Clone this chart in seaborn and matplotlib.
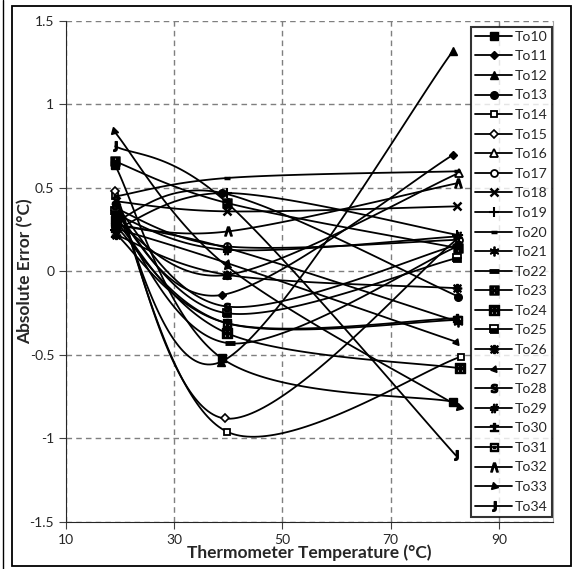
"""Absolute error of thermometers To10-To34 against thermometer temperature."""

import matplotlib
matplotlib.use("Agg")
import matplotlib.pyplot as plt
from matplotlib.lines import Line2D
from matplotlib.patches import Rectangle
import seaborn as sns
import pandas as pd
import numpy as np

sensors = [f"To{i}" for i in range(10, 35)]

# temperature of each sensor at the three test points (degC)
temp_low = [19.0, 19.0, 19.2, 19.0, 19.0, 19.0, 19.2, 19.0, 19.2, 19.0, 19.2, 19.0, 19.2,
            19.0, 19.2, 19.0, 19.2, 19.0, 19.0, 19.2, 19.0, 19.2, 19.0, 18.9, 19.1]
temp_mid = [38.8, 38.9, 38.7, 38.9, 39.8, 39.3, 39.8, 39.8, 39.8, 39.8, 39.8, 39.8, 40.3,
            39.8, 39.8, 39.8, 39.8, 39.8, 39.8, 39.8, 39.8, 39.8, 39.9, 39.8, 39.8]
temp_high = [81.6, 81.6, 81.5, 82.5, 83.0, 82.5, 82.6, 82.6, 82.2, 82.2, 82.3, 82.4, 82.3,
             82.4, 82.9, 82.2, 82.2, 82.0, 82.4, 82.4, 82.3, 82.5, 82.5, 82.6, 82.0]

# absolute error at the three test points (degC)
err_low = [0.64, 0.35, 0.40, 0.30, 0.45, 0.48, 0.30, 0.38, 0.42, 0.25, 0.45, 0.28, 0.33,
           0.66, 0.30, 0.36, 0.22, 0.26, 0.40, 0.34, 0.23, 0.27, 0.28, 0.84, 0.75]
err_mid = [-0.52, -0.14, -0.54, 0.47, -0.96, -0.88, -0.02, 0.15, 0.36, 0.47, 0.56, 0.14, -0.43,
           0.41, -0.37, -0.25, -0.02, 0.05, -0.21, 0.13, -0.31, -0.31, 0.24, 0.03, 0.41]
err_high = [-0.78, 0.70, 1.32, -0.15, -0.51, 0.20, 0.59, 0.19, 0.39, 0.22, 0.60, -0.30, 0.15,
            0.14, -0.58, 0.08, -0.10, -0.42, 0.16, 0.21, -0.28, -0.29, 0.53, -0.81, -1.10]

y_ticks = [1.5, 1, 0.5, 0, -0.5, -1, -1.5]
y_tick_labels = ["1.5", "1", "0.5", "0", "-0.5", "-1", "-1.5"]
x_ticks = [10, 30, 50, 70, 90]

# marker look for each sensor (Excel style series markers)
marker_styles = [
    dict(marker="s", ms=5.5, mfc="black"),
    dict(marker="D", ms=4.5, mfc="black"),
    dict(marker="^", ms=6, mfc="black"),
    dict(marker="o", ms=5.5, mfc="black"),
    dict(marker="s", ms=5, mfc="white", mew=1.3),
    dict(marker="D", ms=4.5, mfc="white", mew=1.2),
    dict(marker="^", ms=6, mfc="white", mew=1.3),
    dict(marker="o", ms=5, mfc="white", mew=1.3),
    dict(marker="x", ms=6, mew=1.8),
    dict(marker="+", ms=7, mew=1.5),
    dict(marker="_", ms=4.5, mew=2.5),
    dict(marker=(6, 2, 0), ms=7, mew=1.3),
    dict(marker="_", ms=7, mew=3.5),
    dict(marker=r"$\boxtimes$", ms=6.5),
    dict(marker=r"$\boxplus$", ms=6.5),
    dict(marker="s", ms=5.5, fillstyle="bottom", mfc="black", mfcalt="white", mew=1.3),
    dict(marker=r"$\divideontimes$", ms=6),
    dict(marker=(3, 0, -20), ms=5.5, mfc="black"),
    dict(marker=r"$\mathbf{S}$", ms=6),
    dict(marker=r"$\#$", ms=6),
    dict(marker=r"$\pm$", ms=6),
    dict(marker=r"$\boxdot$", ms=6),
    dict(marker=r"$\wedge$", ms=6.5),
    dict(marker=(3, 0, 15), ms=6, mfc="black"),
    dict(marker=r"$\mathbf{J}$", ms=7),
]


def smooth_curve(xs, ys, n=60):
    """Excel style smoothed line: Bezier segments with Catmull-Rom control points."""
    pts = np.column_stack([xs, ys]).astype(float)
    ext = np.vstack([pts[0], pts, pts[-1]])
    out = []
    for i in range(len(pts) - 1):
        p0, p1 = ext[i + 1], ext[i + 2]
        c0 = p0 + (ext[i + 2] - ext[i]) / 6
        c1 = p1 - (ext[i + 3] - ext[i + 1]) / 6
        s = np.linspace(0, 1, n)[:, None]
        seg = (1 - s) ** 3 * p0 + 3 * (1 - s) ** 2 * s * c0 + 3 * (1 - s) * s ** 2 * c1 + s ** 3 * p1
        out.append(seg if i == 0 else seg[1:])
    return np.vstack(out)


sns.set_style("white")
plt.rcParams["font.family"] = ["Lato", "DejaVu Sans"]
plt.rcParams["axes.unicode_minus"] = False

rows = []
for k, name in enumerate(sensors):
    curve = smooth_curve([temp_low[k], temp_mid[k], temp_high[k]],
                         [err_low[k], err_mid[k], err_high[k]])
    for j, (t, e) in enumerate(curve):
        rows.append({"sensor": name, "order": j, "temp": t, "err": e})
smooth = pd.DataFrame(rows)

fig = plt.figure(figsize=(5.76, 5.69), dpi=100)
ax = fig.add_axes([0.1146, 0.0826, 0.8455, 0.8805])

sns.lineplot(data=smooth, x="temp", y="err", units="sensor", estimator=None, sort=False,
             color="black", lw=1.3, legend=False, ax=ax)

handles = []
for k, name in enumerate(sensors):
    style = dict(color="black", mec="black", ls="none")
    style.update(marker_styles[k])
    ax.plot([temp_low[k], temp_mid[k], temp_high[k]],
            [err_low[k], err_mid[k], err_high[k]], zorder=3, **style)
    hstyle = dict(style)
    hstyle["ls"] = "-"
    hstyle["lw"] = 1.3
    handles.append(Line2D([], [], label=name, **hstyle))

ax.set_xlim(10, 100)
ax.set_ylim(-1.5, 1.5)
ax.set_xticks(x_ticks)
ax.set_yticks(y_ticks)
ax.set_yticklabels(y_tick_labels)
ax.grid(True, color="#7f7f7f", ls=(0, (4, 3)), lw=1)
ax.tick_params(axis="both", which="major", direction="out", length=5, width=0.8,
               color="#404040", labelsize=10, labelcolor="#262626", left=True, bottom=True)
ax.spines["top"].set_visible(False)
ax.spines["right"].set_color("#a6a6a6")
ax.spines["left"].set_color("#262626")
ax.spines["bottom"].set_color("#262626")

ax.set_xlabel("Thermometer Temperature (°C)", fontsize=12.5, fontweight="bold", labelpad=-1)
ax.set_ylabel("Absolute Error (°C)", fontsize=12.5, fontweight="bold")
ax.yaxis.set_label_coords(-0.068, 0.5)

leg = ax.legend(handles=handles, loc="upper right", bbox_to_anchor=(0.997, 0.989),
                fontsize=10.2, frameon=True, fancybox=False, handlelength=2.6,
                handletextpad=0.15, labelspacing=0.535, borderpad=0.3, borderaxespad=0)
leg.get_frame().set_edgecolor("black")
leg.get_frame().set_linewidth(1.5)

# chart-area border
fig.patches.append(Rectangle((12 / 576, 3 / 569), 559 / 576, 560 / 569, transform=fig.transFigure,
                             fill=False, edgecolor="black", lw=1.3))
fig.add_artist(Line2D([3 / 576, 3 / 576], [0, 1], transform=fig.transFigure, color="black", lw=1))

fig.savefig("out.png", dpi=100)
plt.close(fig)
